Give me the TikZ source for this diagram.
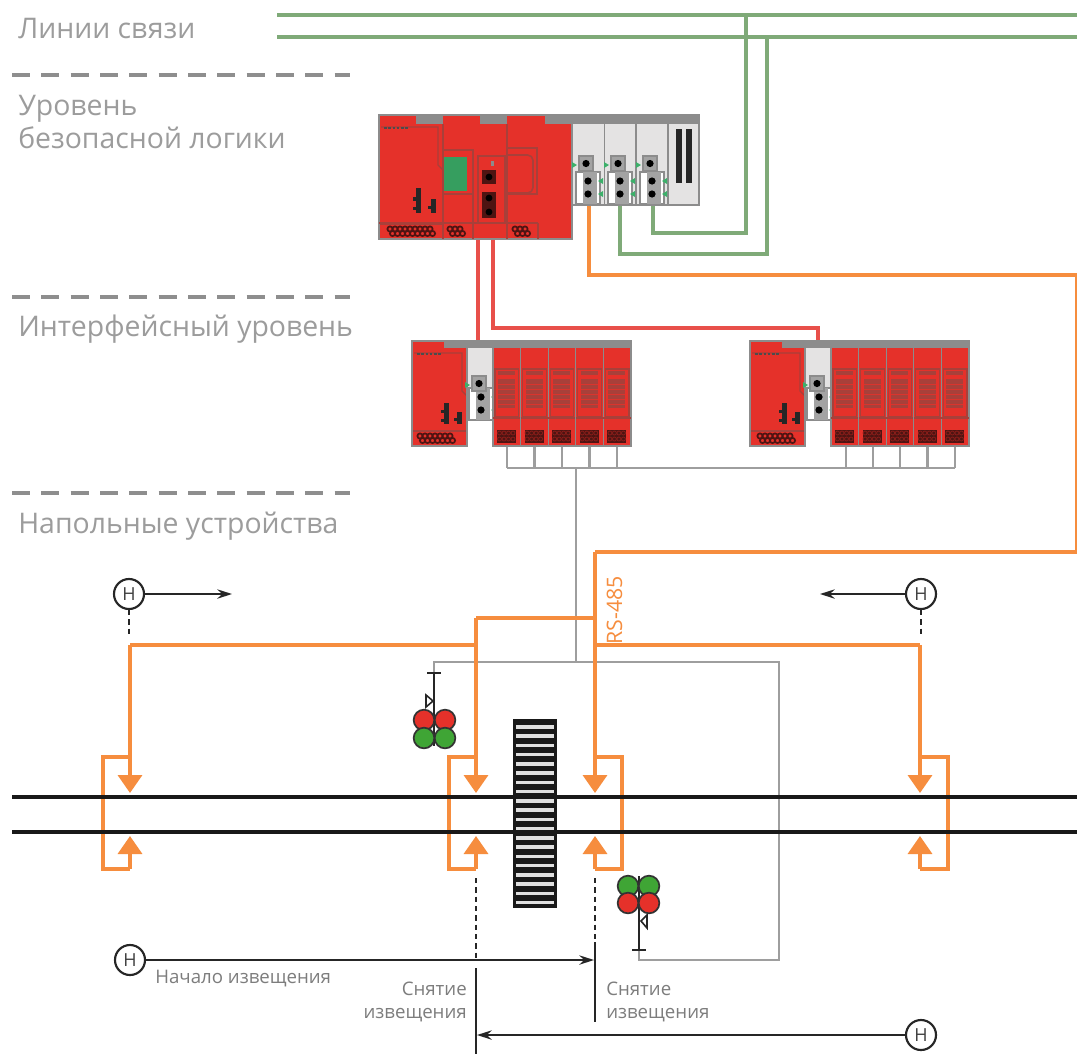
\documentclass[tikz,border=0pt]{standalone}
\usepackage{fontspec}
\setmainfont{Open Sans}
\usetikzlibrary{arrows.meta}
\definecolor{cred}{HTML}{E5312A}
\definecolor{cdred}{HTML}{A8403A}
\definecolor{cblk}{HTML}{4E1412}
\definecolor{cgreen}{HTML}{7FAA78}
\definecolor{corange}{HTML}{F68D3E}
\definecolor{cwire}{HTML}{E8504A}
\definecolor{cgrey}{HTML}{9E9E9E}
\definecolor{cstrip}{HTML}{8C8C8C}
\definecolor{cpanel}{HTML}{E4E3E3}
\definecolor{ctext}{HTML}{9C9C9C}
\definecolor{csmall}{HTML}{7D7D7D}
\definecolor{cport}{HTML}{3CB06A}
\definecolor{csigg}{HTML}{3FA535}
\tikzset{
 x=0.75pt,y=-0.75pt,
 glevel/.style={draw=cgrey!90!black,line width=3.6pt,dash pattern=on 13.5pt off 8.5pt},
 heading/.style={anchor=base west,inner sep=0pt,text=ctext,font=\fontsize{21.3}{24}\selectfont},
 small/.style={inner sep=0pt,text=csmall,font=\fontsize{14}{17}\selectfont},
 gline/.style={draw=cgreen,line width=2.6pt},
 gmain/.style={draw=cgreen,line width=3.4pt},
 oline/.style={draw=corange,line width=2.6pt},
 oarrow/.style={oline,-{Triangle[length=13.5pt,width=18pt]}},
 rline/.style={draw=cwire,line width=2.6pt},
 wline/.style={draw=cgrey,line width=2.1pt},
 rail/.style={draw=black!90,line width=2.8pt},
 bline/.style={draw=black!85,line width=1.2pt},
 barrow/.style={bline,-{Stealth[length=11pt,width=7pt]}},
 dline/.style={draw=black!85,line width=1.2pt,dash pattern=on 4pt off 3pt},
 hnode/.style={circle,draw=black!85,fill=white,line width=1.6pt,minimum size=22.5pt,inner sep=0pt,text=black!75,font=\fontsize{13.5}{14}\selectfont},
 modbox/.style={draw=cstrip,line width=0.9pt},
 sigr/.style={circle,draw=black!80,fill=cred,line width=1.3pt,minimum size=15.5pt,inner sep=0pt},
 sigg/.style={circle,draw=black!80,fill=csigg,line width=1.3pt,minimum size=15.5pt,inner sep=0pt},
}
% lattice terminal row
\newcommand\latrow[3]{%
 \foreach \xx in {#1,...,#2} {\draw[cblk,line width=1.3pt] (\xx*5,#3+3) circle[radius=2.6];}
 \foreach \xx in {#1,...,#2} {\draw[cblk,line width=1.3pt] (\xx*5+2.5,#3+7.5) circle[radius=2.6];}
}
% power unit: x y w h
\newcommand\psunit[4]{%
 \fill[cred] (#1,#2) rectangle (#1+#3,#2+#4);
 \draw[cdred,line width=1pt] (#1+2,#2+12) -- (#1+#3-5,#2+12) -- (#1+#3-5,#2+50) -- (#1+#3,#2+55);
 \draw[cdred,line width=1pt] (#1,#2+#4-15) -- (#1+#3,#2+#4-15);
 \draw[black!70,line width=1.5pt,dash pattern=on 2pt off 1.2pt] (#1+5,#2+13) -- (#1+30,#2+13);
 \fill[black!85] (#1+.58*#3,#2+.59*#4) rectangle (#1+.58*#3+5,#2+.79*#4);
 \fill[black!85] (#1+.58*#3-3,#2+.66*#4) rectangle (#1+.58*#3+1,#2+.69*#4);
 \fill[black!85] (#1+.58*#3-3,#2+.74*#4) rectangle (#1+.58*#3+1,#2+.77*#4);
 \fill[black!85] (#1+.82*#3,#2+.68*#4) rectangle (#1+.82*#3+5,#2+.79*#4);
 \fill[black!85] (#1+.82*#3-3,#2+.73*#4) rectangle (#1+.82*#3+1,#2+.76*#4);
}
% connector group: x y dy
\newcommand\conngrp[3]{%
 \draw[fill=white,draw=cstrip,line width=0.8pt] (#1-3,#2+#3-9) rectangle (#1+21,#2+#3+23);
 \fill[cstrip!80] (#1+4,#2+#3-9) rectangle (#1+18,#2+#3+23);
 \draw[fill=cstrip!80,draw=cstrip,line width=0.8pt] (#1,#2) rectangle (#1+14,#2+15);
 \fill[black] (#1+7,#2+7.5) circle[radius=3.6];
 \fill[black] (#1+9,#2+#3) circle[radius=3.6];
 \fill[black] (#1+9,#2+#3+13) circle[radius=3.6];
 \fill[cport] (#1-7,#2+6) -- (#1-2,#2+9) -- (#1-7,#2+12) -- cycle;
 \fill[cport] (#1+24,#2+#3-3) -- (#1+19,#2+#3) -- (#1+24,#2+#3+3) -- cycle;
 \fill[cport] (#1+24,#2+#3+10) -- (#1+19,#2+#3+13) -- (#1+24,#2+#3+16) -- cycle;
}
% red I/O module: x y
\newcommand\iomod[2]{%
 \fill[cred] (#1,#2) rectangle (#1+27.6,#2+105);
 \fill[cstrip] (#1,#2) rectangle (#1+27.6,#2+7);
 \draw[modbox] (#1,#2) rectangle (#1+27.6,#2+105);
 \draw[cdred,line width=1pt] (#1+2,#2+28) rectangle (#1+25.6,#2+76);
 \fill[cdred] (#1+5,#2+30) rectangle (#1+22,#2+34);
 \fill[cdred] (#1+5,#2+38) rectangle (#1+22,#2+67);
 \foreach \yy in {43,48,...,63} {\draw[cred!80!cdred,line width=0.4pt] (#1+5,#2+\yy) -- (#1+22,#2+\yy);}
 \draw[cdred,line width=1pt] (#1,#2+77) -- (#1+27.6,#2+77);
 \fill[cblk] (#1+4,#2+89) rectangle (#1+23,#2+102);
 \foreach \yy in {92,98} {\foreach \xx in {6.5,11,15.5,20} {\draw[cred!60!black,line width=0.6pt] (#1+\xx,#2+\yy) circle[radius=2];}}
}
% interface group: x
\newcommand\ifgroup[1]{%
 \psunit{#1}{341}{55}{105}
 \fill[cred] (#1,341) rectangle (#1+32,351);
 \fill[cstrip] (#1+32,341) rectangle (#1+81,348);
 \fill[cpanel] (#1+55,348) rectangle (#1+81,417);
 \draw[modbox] (#1,341) rectangle (#1+55,446);
 \draw[modbox] (#1+55,341) -- (#1+81,341);
 \draw[modbox] (#1+55,417) -- (#1+81,417);
 \conngrp{#1+60}{376}{21}
 \iomod{#1+81}{341}\iomod{#1+108.6}{341}\iomod{#1+136.2}{341}\iomod{#1+163.8}{341}\iomod{#1+191.4}{341}
}
\begin{document}
\begin{tikzpicture}
\useasboundingbox (0,0) rectangle (1077,1054);
\fill[white] (0,0) rectangle (1077,1054);
% named coordinates for free ends and module ports
\coordinate (gl1) at (277,15); \coordinate (gr1) at (1077,15);
\coordinate (gl2) at (277,37); \coordinate (gr2) at (1077,37);
\coordinate (tap1) at (746,15); \coordinate (tap2) at (767,37);
\coordinate (c2) at (653,205); \coordinate (c1) at (620,205); \coordinate (c0) at (589,205);
\coordinate (cpu1) at (478,239); \coordinate (cpu2) at (493,239);
\coordinate (if1) at (478,341); \coordinate (if2) at (818,341);
\coordinate (rsj) at (595,552);
\coordinate (m) at (576,468);
\coordinate (mb) at (576,662);
\coordinate (sl) at (434,673);
\coordinate (sr) at (639,950);
% levels
\draw[glevel] (12,75) -- (350,75);
\draw[glevel] (12,297) -- (350,297);
\draw[glevel] (12,493) -- (350,493);
\node[heading] (t1) at (18,38) {Линии связи};
\node[heading] (t2) at (18,115) {Уровень};
\node[heading] (t3) at (18,148) {безопасной логики};
\node[heading] (t4) at (18,336) {Интерфейсный уровень};
\node[heading] (t5) at (18,533) {Напольные устройства};
% green
\draw[gmain] (gl1) -- (gr1);
\draw[gmain] (gl2) -- (gr2);
\draw[gline] (tap1) |- (653,233) -- (c2);
\draw[gline] (tap2) |- (620,254) -- (c1);
% orange trunk
\draw[oline] (c0) |- (1077,275) -- (1077,552) -- (rsj);
% red
\draw[rline] (cpu1) -- (if1);
\draw[rline] (cpu2) |- (818,328) -- (if2);
% grey wiring
\foreach \cx in {507,534.5,562,589.5,617,846,873,900,927.5,955} {\draw[wline] (\cx,446) -- (\cx,468);}
\draw[wline] (507,468) -- (955,468);
\draw[wline] (m) -- (mb);
\draw[wline] (sl) |- (779,662) |- (639,960) -- (sr);
% top rack
\fill[cred] (379,115) rectangle (572,239);
\fill[cpanel] (572,115) rectangle (699,205);
\psunit{379}{115}{64}{124}
\fill[cstrip] (416,115) rectangle (443,124);
\fill[cstrip] (480,115) rectangle (507,124);
\fill[cstrip] (545,115) rectangle (699,124);
\draw[modbox] (379,115) rectangle (572,239);
\draw[cdred,line width=1pt] (443,124) -- (443,239);
\draw[cdred,line width=1pt] (507,124) -- (507,239);
\draw[cdred,line width=1pt] (473,149) -- (473,239);
\draw[cdred,line width=1pt] (538,223) -- (538,239);
\draw[cdred,line width=1pt] (379,223) -- (478,223);
\draw[cdred,line width=1pt] (505,223) -- (538,223);
\draw[cdred,line width=1pt] (443,150) -- (473,150);
\draw[cdred,line width=1pt] (443,194) -- (473,194);
\fill[cport!90!black] (444,157) rectangle (467,191);
\draw[cdred,line width=1pt] (507,148) -- (537,148) -- (537,194) -- (507,194);
\draw[cdred,line width=1.2pt,rounded corners=4pt] (507,155) -- (533,155) -- (533,193) -- (507,193);
\draw[cdred,line width=1pt] (478,156) rectangle (505,223);
\fill[cstrip] (491,161) rectangle (494,166);
\fill[cblk] (482,170) rectangle (496,184);
\fill[cblk] (482,192) rectangle (496,218);
\fill[black] (489,177) circle[radius=3.4];
\fill[black] (489,198) circle[radius=3.4];
\fill[black] (489,212) circle[radius=3.4];
\latrow{78}{86}{226}
\latrow{90}{92}{226}
\latrow{103}{105}{226}
\foreach \mx in {572,604.5,636,668,699} {\draw[modbox] (\mx,115) -- (\mx,205);}
\draw[modbox] (572,115) rectangle (699,205);
\conngrp{579}{156}{25}
\conngrp{611}{156}{25}
\conngrp{643}{156}{25}
\fill[black!85] (676,129) rectangle (682,183);
\fill[black!85] (686,129) rectangle (692,183);
% interface groups
\ifgroup{412}
\ifgroup{750}
\latrow{84}{90}{433}
\latrow{152}{158}{433}
% orange field wiring
\draw[oarrow] (rsj) -- (595,793);
\draw[oline] (476,618) -- (595,618);
\draw[oarrow] (476,618) -- (476,793);
\draw[oline] (474,645) -- (130,645);
\draw[oarrow] (130,645) -- (130,793);
\draw[oline] (595,645) -- (920,645);
\draw[oarrow] (920,645) -- (920,793);
\foreach \ax/\bx in {130/103,476/449,595/622,920/948} {
 \draw[oline] (\ax,757) -- (\bx,757) -- (\bx,869) -- (\ax,869);
 \draw[oarrow] (\ax,869) -- (\ax,836);
}
\node[inner sep=0pt,rotate=90,anchor=base west,text=corange,font=\fontsize{16}{18}\selectfont] (rs) at (622,645) {RS-485};
% rails
\draw[rail] (12,797) -- (1077,797);
\draw[rail] (12,832) -- (1077,832);
% crossing
\fill[black!90] (513,719) rectangle (557,908);
\foreach \si in {0,...,19} {\fill[black!12] (516,725+\si*9.26) rectangle (554,728.5+\si*9.26);}
% signals
\draw[bline] (sl) -- (434,746);
\draw[bline] (427,673) -- (441,673);
\draw[bline,fill=white] (426,695) -- (433,701) -- (426,707) -- cycle;
\node[sigr] (s1a) at (424,720) {};
\node[sigr] (s1b) at (445,720) {};
\node[sigg] (s1c) at (424,738) {};
\node[sigg] (s1d) at (445,738) {};
\draw[bline] (sr) -- (639,876);
\draw[bline] (632,950) -- (646,950);
\draw[bline,fill=white] (647,915) -- (641,921) -- (647,928) -- cycle;
\node[sigg] (s2a) at (628,886) {};
\node[sigg] (s2b) at (649,886) {};
\node[sigr] (s2c) at (628,903) {};
\node[sigr] (s2d) at (649,903) {};
% sensors
\node[hnode] (h1) at (129,594) {Н};
\node[hnode] (h2) at (921,594) {Н};
\node[hnode] (h3) at (130,960) {Н};
\node[hnode] (h4) at (921,1035) {Н};
\coordinate (a1) at (232,594); \coordinate (a2) at (820,594);
\coordinate (a3) at (594,960); \coordinate (a4) at (477,1035);
\draw[barrow] (h1) -- (a1);
\draw[barrow] (h2) -- (a2);
\draw[barrow] (h3) -- (a3);
\draw[barrow] (h4) -- (a4);
\draw[dline] (h1) -- (129,638);
\draw[dline] (h2) -- (921,638);
\draw[dline] (476,878) -- (476,960);
\draw[dline] (595,878) -- (595,940);
\draw[bline,line width=1.5pt] (476,968) -- (476,1054);
\draw[bline,line width=1.5pt] (595,942) -- (595,1022);
% labels
\node[small,anchor=base west] (n1) at (155,983) {Начало извещения};
\node[small,anchor=base east] (n2) at (467,995) {Снятие};
\node[small,anchor=base east] (n3) at (467,1018) {извещения};
\node[small,anchor=base west] (n4) at (606,995) {Снятие};
\node[small,anchor=base west] (n5) at (606,1018) {извещения};
\end{tikzpicture}
\end{document}
